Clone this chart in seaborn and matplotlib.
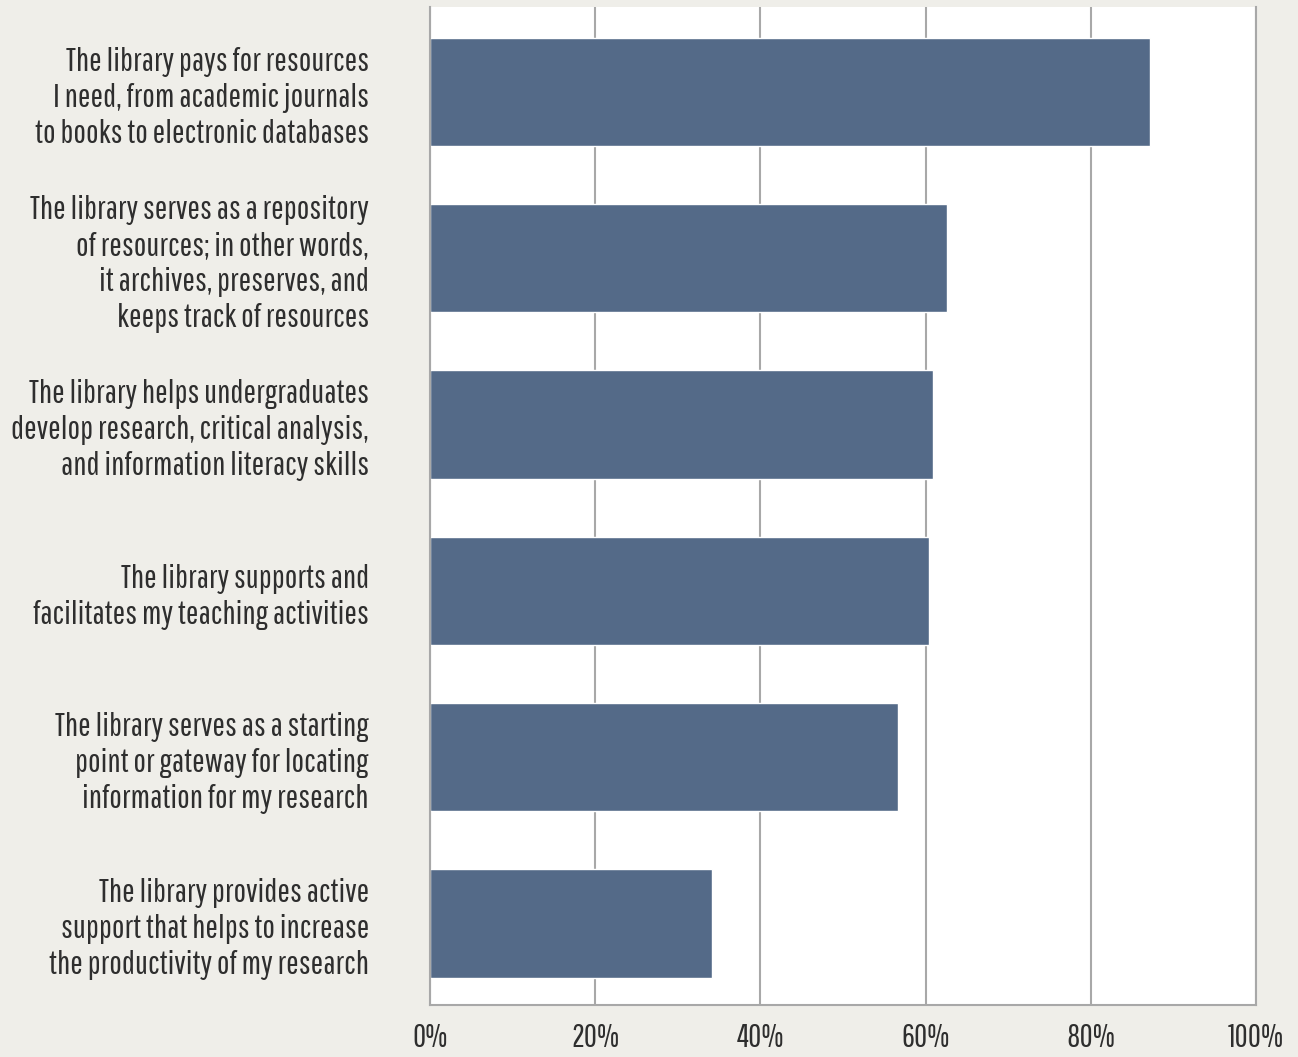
import matplotlib
matplotlib.use("Agg")
import matplotlib.pyplot as plt
import seaborn as sns
import pandas as pd

statements = [
    "The library pays for resources\nI need, from academic journals\nto books to electronic databases",
    "The library serves as a repository\nof resources; in other words,\nit archives, preserves, and\nkeeps track of resources",
    "The library helps undergraduates\ndevelop research, critical analysis,\nand information literacy skills",
    "The library supports and\nfacilitates my teaching activities",
    "The library serves as a starting\npoint or gateway for locating\ninformation for my research",
    "The library provides active\nsupport that helps to increase\nthe productivity of my research",
]
shares = [87.2, 62.6, 60.9, 60.4, 56.7, 34.2]
tick_values = [0, 20, 40, 60, 80, 100]
tick_labels = ["0%", "20%", "40%", "60%", "80%", "100%"]

df = pd.DataFrame({"statement": statements, "share": shares})

sns.set_theme(style="white")
plt.rcParams["font.family"] = ["Pathway Gothic One", "DejaVu Sans"]

bg = "#EFEEE9"
bar_color = "#546A88"
grid_color = "#A8A8A8"
text_color = "#2E2E2E"

fig = plt.figure(figsize=(12.98, 10.57), dpi=100, facecolor=bg)
ax = fig.add_axes([430 / 1298, 1 - 1005 / 1057, 826 / 1298, 998 / 1057])
ax.set_facecolor("white")

sns.barplot(data=df, x="share", y="statement", orient="h", color=bar_color,
            saturation=1, width=0.65, ax=ax)

ax.set_xlim(0, 100)
ax.set_ylim(5.49, -0.51)
ax.set_xticks(tick_values)
ax.set_xticklabels(tick_labels)
ax.set_axisbelow(True)
ax.xaxis.grid(True, color=grid_color, linewidth=1.5)
ax.yaxis.grid(False)
ax.set_xlabel("")
ax.set_ylabel("")

for side in ["left", "bottom", "right"]:
    ax.spines[side].set_visible(True)
    ax.spines[side].set_color(grid_color)
    ax.spines[side].set_linewidth(1.5)
ax.spines["top"].set_visible(False)

ax.tick_params(axis="x", length=0, pad=13, labelsize=23, labelcolor=text_color)
ax.tick_params(axis="y", length=0, pad=44, labelsize=24, labelcolor=text_color)
for lbl in ax.get_yticklabels():
    lbl.set_linespacing(1.25)
    lbl.set_horizontalalignment("right")

fig.savefig("out.png", dpi=100, facecolor=bg)
